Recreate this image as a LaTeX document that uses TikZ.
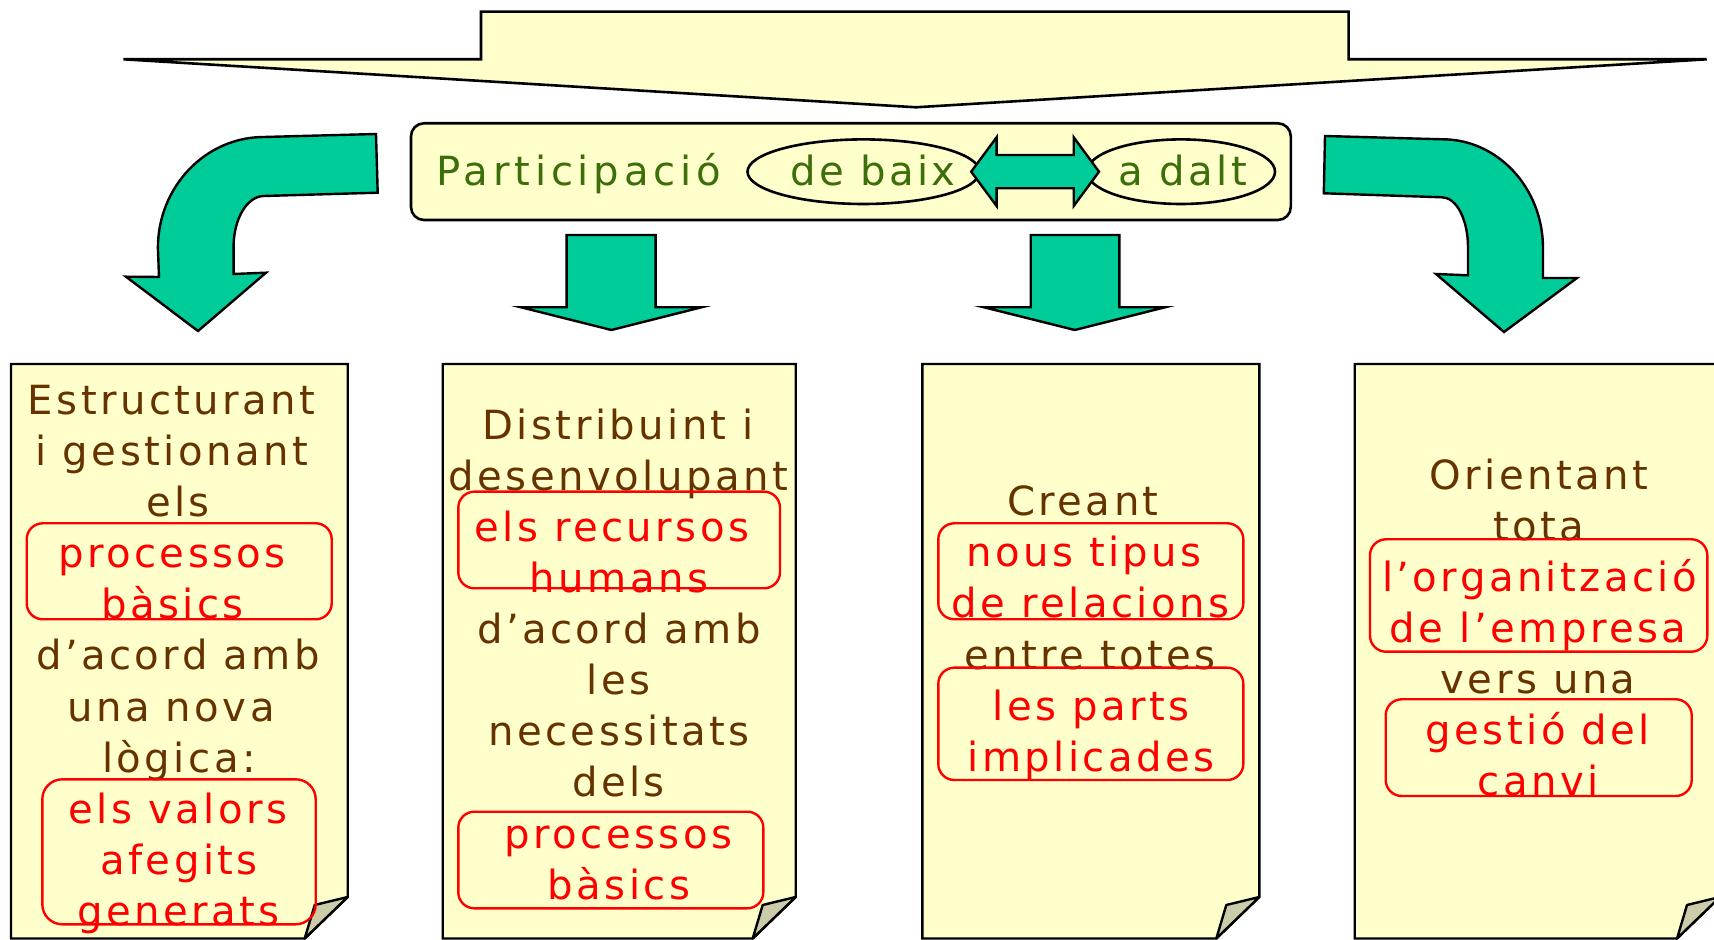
\documentclass[tikz,border=0pt]{standalone}
\usepackage{fontspec}
\setmainfont{DejaVu Sans}[LetterSpace=8.5]
\newfontfamily\partfont{DejaVu Sans}[LetterSpace=12]
\usetikzlibrary{shapes.geometric}
\definecolor{paperyellow}{RGB}{255,255,204}
\definecolor{arrowgreen}{RGB}{0,204,153}
\definecolor{foldgrey}{RGB}{204,204,170}
\definecolor{textbrown}{RGB}{102,51,0}
\definecolor{textgreen}{RGB}{60,110,10}
\newcommand\bodysize{\fontsize{20.1pt}{24pt}\selectfont}
\newcommand\papersheet[2]{%
  \draw[paper] (#1,364) -- (#2,364) -- (#2,897) -- ({#2-43},938.5) -- (#1,938.5) -- cycle;
  \draw[fold] (#2,897) -- ({#2-33},905) -- ({#2-43},938.5) -- cycle;}
\begin{document}
\begin{tikzpicture}[x=0.5pt,y=-0.5pt,
  paper/.style={fill=paperyellow,draw=black,line width=1.2pt},
  fold/.style={fill=foldgrey,draw=black,line width=1.2pt,line join=round},
  garrow/.style={fill=arrowgreen,draw=black,line width=1.2pt,line join=miter},
  banner/.style={fill=paperyellow,draw=black,line width=1.3pt,line join=miter},
  redbox/.style={draw=red,line width=1.2pt,rounded corners=8pt},
  linetext/.style={anchor=base,inner sep=0pt,font=\bodysize},
  greentext/.style={anchor=base,inner sep=0pt,font=\bodysize,text=textgreen},
  ell/.style={draw=black,line width=1.3pt,ellipse,inner sep=0pt}]
\useasboundingbox (0,0) rectangle (1714,940);

% top banner
\draw[banner] (123.5,59.3) -- (481,59.3) -- (481,11.7) -- (1348.6,11.7) -- (1348.6,59.3) -- (1706.7,59.3) -- (916,107.3) -- cycle;

% central rounded box
\draw[fill=paperyellow,draw=black,line width=1.3pt,rounded corners=6.5pt] (411,123.3) rectangle (1290.8,220);
\node[ell,minimum width=116pt,minimum height=32.3pt] (baixell) at (863.5,171.7) {};
\node[ell,minimum width=94pt,minimum height=32.3pt] (daltell) at (1181,171.7) {};
\node[greentext,anchor=base west,font=\bodysize\partfont] (part) at (436,186) {Participació};
\node[greentext] (baix) at (873,186) {de baix};
\node[greentext] (dalt) at (1183,186) {a dalt};
\draw[garrow] (971.2,171.7) -- (996.6,137.3) -- (996.6,155) -- (1073.7,155) -- (1073.7,137.3) -- (1099,171.7) -- (1073.7,206) -- (1073.7,188.3) -- (996.6,188.3) -- (996.6,206) -- cycle;

% arrows
\draw[garrow] (376,134) -- (264,137) .. controls (205.5,137) and (157.9,186.7) .. (157.9,248) -- (159,277) -- (126,276.7) -- (198,331) -- (266,272.7) -- (233.6,274) -- (233.6,246.7) .. controls (233.6,218.7) and (247.2,196) .. (264,196) -- (377.7,192.7) -- cycle;
\draw[garrow] (1325,136) -- (1442.3,139.3) .. controls (1497.9,139.3) and (1543,188.1) .. (1543,248.3) -- (1543,278) -- (1577,278) -- (1504,332) -- (1436,274) -- (1468,275.3) -- (1468,247) .. controls (1468,219.6) and (1456.4,197.3) .. (1442,197.3) -- (1323.8,193.3) -- cycle;
\draw[garrow] (566.6,235) -- (655.6,235) -- (655.6,307.3) -- (701.5,307.3) -- (611.4,330) -- (521,307.3) -- (566.6,307.3) -- cycle;
\draw[garrow] (1030.7,235) -- (1119.4,235) -- (1119.4,307.3) -- (1165,307.3) -- (1074.8,330) -- (984,307.3) -- (1030.7,307.3) -- cycle;

% papers
\papersheet{11}{347.7}
\papersheet{442.7}{795.7}
\papersheet{922.3}{1259.3}
\papersheet{1354.7}{1720}

% texts
\foreach \xx/\txt/\cl [count=\i] in {171.7/Estructurant/textbrown, 171.7/i gestionant/textbrown, 178/els/textbrown, 172/processos/red, 172.5/bàsics/red, 178/d’acord amb/textbrown, 171/una nova/textbrown, 179/lògica:/textbrown, 178/els valors/red, 179/afegits/red, 178.7/generats/red}
  \node[linetext,text=\cl] (pa\i) at (\xx,{415+51*(\i-1)}) {\txt};
\foreach \xx/\txt/\cl [count=\i] in {618.3/Distribuint i/textbrown, 618.3/desenvolupant/textbrown, 611.7/els recursos/red, 619/humans/red, 619/d’acord amb/textbrown, 618.5/les/textbrown, 619/necessitats/textbrown, 618.5/dels/textbrown, 618.5/processos/red, 619/bàsics/red}
  \node[linetext,text=\cl] (pb\i) at (\xx,{440+51*(\i-1)}) {\txt};
\foreach \xx/\txt/\cl [count=\i] in {1083/Creant/textbrown, 1084/nous tipus/red, 1090.5/de relacions/red, 1090/entre totes/textbrown, 1091/les parts/red, 1091/implicades/red}
  \node[linetext,text=\cl] (pc\i) at (\xx,{516+51*(\i-1)}) {\txt};
\foreach \xx/\txt/\cl [count=\i] in {1538.7/Orientant/textbrown, 1538.7/tota/textbrown, 1539.5/l’organització/red, 1538.2/de l’empresa/red, 1538.2/vers una/textbrown, 1538/gestió del/red, 1538/canvi/red}
  \node[linetext,text=\cl] (pd\i) at (\xx,{489.3+51*(\i-1)}) {\txt};

% red frames
\draw[redbox] (26.7,523.3) rectangle (331.7,619.3);
\draw[redbox,rounded corners=10pt] (42.3,779.3) rectangle (315.7,924.3);
\draw[redbox] (458.3,491.7) rectangle (780,588.3);
\draw[redbox] (458.3,811.7) rectangle (763.3,908.3);
\draw[redbox] (938.3,523.3) rectangle (1243.3,619.3);
\draw[redbox] (938.3,667.7) rectangle (1243.3,780);
\draw[redbox] (1370,539.3) rectangle (1707.3,651.7);
\draw[redbox] (1385.7,699.3) rectangle (1691.7,796);
\end{tikzpicture}
\end{document}
